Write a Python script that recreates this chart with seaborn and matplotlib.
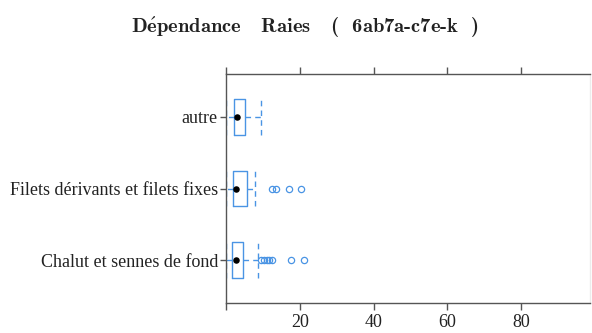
import matplotlib
matplotlib.use("Agg")
import matplotlib.pyplot as plt
import seaborn as sns
import pandas as pd

categories = ["Chalut et sennes de fond", "Filets dérivants et filets fixes", "autre"]
whis_low = [0.0, 0.0, 0.0]
q1 = [1.5, 1.8, 2.0]
medians = [2.6, 2.6, 2.9]
q3 = [4.5, 5.7, 5.2]
whis_high = [8.5, 7.9, 9.3]
outliers = [
    [9.4, 10.2, 11.0, 11.7, 12.4, 17.6, 21.0],
    [12.4, 13.6, 16.9, 20.4],
    [],
]
xticks = [0, 20, 40, 60, 80]
xticklabels = ["", "20", "40", "60", "80"]
title = r"$\mathbf{D\acute{e}pendance}$   Raies   (  6ab7a-c7e-k  )"

sns.set_theme(style="white")
plt.rcParams["font.family"] = ["Liberation Serif", "DejaVu Serif"]
plt.rcParams["mathtext.fontset"] = "cm"

W, H = 592, 333
fig = plt.figure(figsize=(W / 100, H / 100), dpi=100)
left, right, top, bottom = 226.3, 590.0, 74.0, 303.0
ax = fig.add_axes([left / W, 1 - bottom / H, (right - left) / W, (bottom - top) / H])

blue = "#4a94e4"
stats = []
for i, c in enumerate(categories):
    stats.append(dict(label=c, whislo=whis_low[i], q1=q1[i], med=medians[i],
                      q3=q3[i], whishi=whis_high[i], fliers=outliers[i]))
pos = list(range(1, len(categories) + 1))
ax.bxp(stats, positions=pos, orientation="horizontal", widths=0.5, capwidths=0.5,
       boxprops=dict(color=blue, linewidth=1.0),
       whiskerprops=dict(color=blue, linewidth=1.0, linestyle=(0, (4, 3))),
       capprops=dict(color=blue, linewidth=1.0, linestyle=(0, (4, 3))),
       medianprops=dict(linewidth=0),
       flierprops=dict(marker="o", markersize=4.5, markerfacecolor="none",
                       markeredgecolor=blue, markeredgewidth=0.9, linestyle="none"),
       manage_ticks=False)

df = pd.DataFrame({"pos": pos, "median": medians})
sns.scatterplot(data=df, x="median", y="pos", ax=ax, color="black", s=22,
                edgecolor="black", linewidth=0, zorder=5, legend=False)

ax.set_xlim(0, (right - left) / 3.685)
ax.set_ylim(0.4, len(categories) + 0.6)
ax.set_yticks(pos)
ax.set_yticklabels(categories, fontsize=13, color="#222222")
ax.set_xticks(xticks)
ax.set_xticklabels(xticklabels, fontsize=13, color="#222222")
ax.set_xlabel("")
ax.set_ylabel("")
ax.tick_params(axis="x", which="both", direction="out", length=5, width=1,
               color="#555555", top=True, bottom=True, labeltop=False, pad=3)
ax.tick_params(axis="y", direction="out", length=4, width=1, color="#555555",
               left=True, right=False, pad=2)
for s in ax.spines.values():
    s.set_color("#555555")
    s.set_linewidth(1.0)
ax.spines["right"].set_color("#ececec")

fig.text(131 / W, 1 - 28 / H, title, ha="left", va="center", fontsize=14.8,
         family="cmb10", color="#222222")

fig.savefig("out.png", dpi=100)
